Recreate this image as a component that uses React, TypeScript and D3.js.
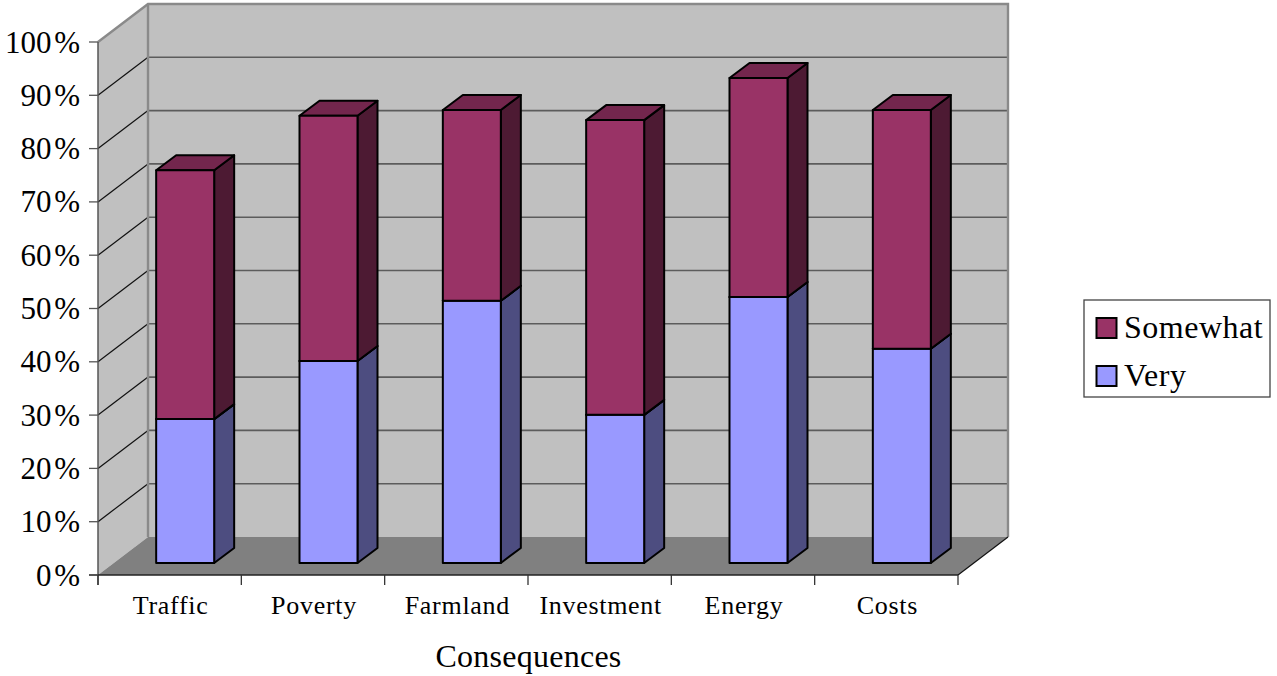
import React from "react";
import * as d3 from "d3";

const categories = ["Traffic", "Poverty", "Farmland", "Investment", "Energy", "Costs"];
const veryValues = [27, 37.9, 49.2, 27.8, 49.9, 40.2];
const somewhatValues = [46.7, 46, 35.8, 55.3, 41.1, 44.8];
const yTicks = [0, 10, 20, 30, 40, 50, 60, 70, 80, 90, 100];
const legendItems = [
  { label: "Somewhat", front: "#993366" },
  { label: "Very", front: "#9999ff" },
];
const axisTitle = "Consequences";

const FONT = "'Liberation Serif', serif";
const W = 1277, H = 676;
const left = 98, right = 958, y0 = 575, y100 = 42;
const wallDx = 50, wallDy = -38;
const barOffsetX = 15.5, barOffsetY = -12;
const barDepthX = 20, barDepthY = -15;
const barWidth = 58;

const y = d3.scaleLinear().domain([0, 100]).range([y0, y100]);
const x = d3.scaleBand<string>().domain(categories).range([left, right]);
const poly = (pts: [number, number][]) => d3.line()(pts)! + "Z";

function Box({ bx, v0, v1, front, side, top }: { bx: number; v0: number; v1: number; front: string; side: string; top: string }) {
  const yb = y(v0) + barOffsetY;
  const yt = y(v1) + barOffsetY;
  const xr = bx + barWidth;
  return (
    <g stroke="#000" strokeWidth={2} strokeLinejoin="round">
      <path d={poly([[xr, yb], [xr + barDepthX, yb + barDepthY], [xr + barDepthX, yt + barDepthY], [xr, yt]])} fill={side} />
      <path d={poly([[bx, yt], [xr, yt], [xr + barDepthX, yt + barDepthY], [bx + barDepthX, yt + barDepthY]])} fill={top} />
      <rect x={bx} y={yt} width={barWidth} height={yb - yt} fill={front} />
    </g>
  );
}

export default function App() {
  const bandInset = (x.bandwidth() - barWidth) / 2 + barOffsetX;
  const edges = [...categories.map((c) => x(c)!), right];
  return (
    <svg width={W} height={H} style={{ position: "absolute", left: 0, top: 0, background: "#fff" }} fontFamily={FONT}>
      <path d={poly([[left, y0], [left + wallDx, y0 + wallDy], [left + wallDx, y100 + wallDy], [left, y100]])} fill="#c0c0c0" />
      <rect x={left + wallDx} y={y100 + wallDy} width={right - left} height={y0 - y100} fill="#c0c0c0" />
      <path d={poly([[left, y0], [right, y0], [right + wallDx, y0 + wallDy], [left + wallDx, y0 + wallDy]])} fill="#808080" />
      {yTicks.map((t) => (
        <g key={t}>
          {t > 0 && t < 100 && <line x1={left} y1={y(t)} x2={left + wallDx} y2={y(t) + wallDy} stroke="#111" strokeWidth={1.2} />}
          {t > 0 && t < 100 && <line x1={left + wallDx} y1={y(t) + wallDy} x2={right + wallDx} y2={y(t) + wallDy} stroke="#5c5c5c" strokeWidth={1.6} />}
        </g>
      ))}
      <path d={d3.line()([[left, y100], [left + wallDx, y100 + wallDy], [right + wallDx, y100 + wallDy], [right + wallDx, y0 + wallDy]])!} fill="none" stroke="#8a8a8a" strokeWidth={2.4} />
      <line x1={left + wallDx} y1={y100 + wallDy} x2={left + wallDx} y2={y0 + wallDy} stroke="#8a8a8a" strokeWidth={2.4} />
      <line x1={right} y1={y0} x2={right + wallDx} y2={y0 + wallDy} stroke="#111" strokeWidth={1.2} />

      {categories.map((c, i) => {
        const bx = x(c)! + bandInset;
        return (
          <g key={c}>
            <Box bx={bx} v0={0} v1={veryValues[i]} front="#9999ff" side="#4d4d80" top="#73739f" />
            <Box bx={bx} v0={veryValues[i]} v1={veryValues[i] + somewhatValues[i]} front="#993366" side="#4d1a33" top="#73264d" />
          </g>
        );
      })}

      <line x1={left} y1={y100} x2={left} y2={y0 + 10} stroke="#555" strokeWidth={1.5} />
      <line x1={left - 9} y1={y0} x2={right} y2={y0} stroke="#222" strokeWidth={1.6} />
      {yTicks.map((t) => (
        <g key={t}>
          <line x1={left - 9} y1={y(t)} x2={left} y2={y(t)} stroke="#555" strokeWidth={1.3} />
          <text x={80} y={y(t) + 10.5} textAnchor="end" fontSize={31} wordSpacing={-5} fill="#000">{t} %</text>
        </g>
      ))}
      {edges.map((e, i) => (
        <line key={i} x1={e} y1={y0} x2={e} y2={y0 + 10} stroke="#333" strokeWidth={1.3} />
      ))}
      {categories.map((c) => (
        <text key={c} x={x(c)! + x.bandwidth() / 2 + 1} y={614} textAnchor="middle" fontSize={26} letterSpacing={0.7} fill="#000">{c}</text>
      ))}
      <text x={528.5} y={667} textAnchor="middle" fontSize={32} letterSpacing={0.25} fill="#000">{axisTitle}</text>

      <rect x={1084} y={300} width={186} height={97} fill="#fff" stroke="#444" strokeWidth={1.3} />
      {legendItems.map((d, i) => (
        <g key={d.label}>
          <rect x={1096.5} y={318 + i * 48} width={20} height={20} fill={d.front} stroke="#000" strokeWidth={2} />
          <text x={1124} y={338 + i * 48} fontSize={32} letterSpacing={0.5} fill="#000">{d.label}</text>
        </g>
      ))}
    </svg>
  );
}
